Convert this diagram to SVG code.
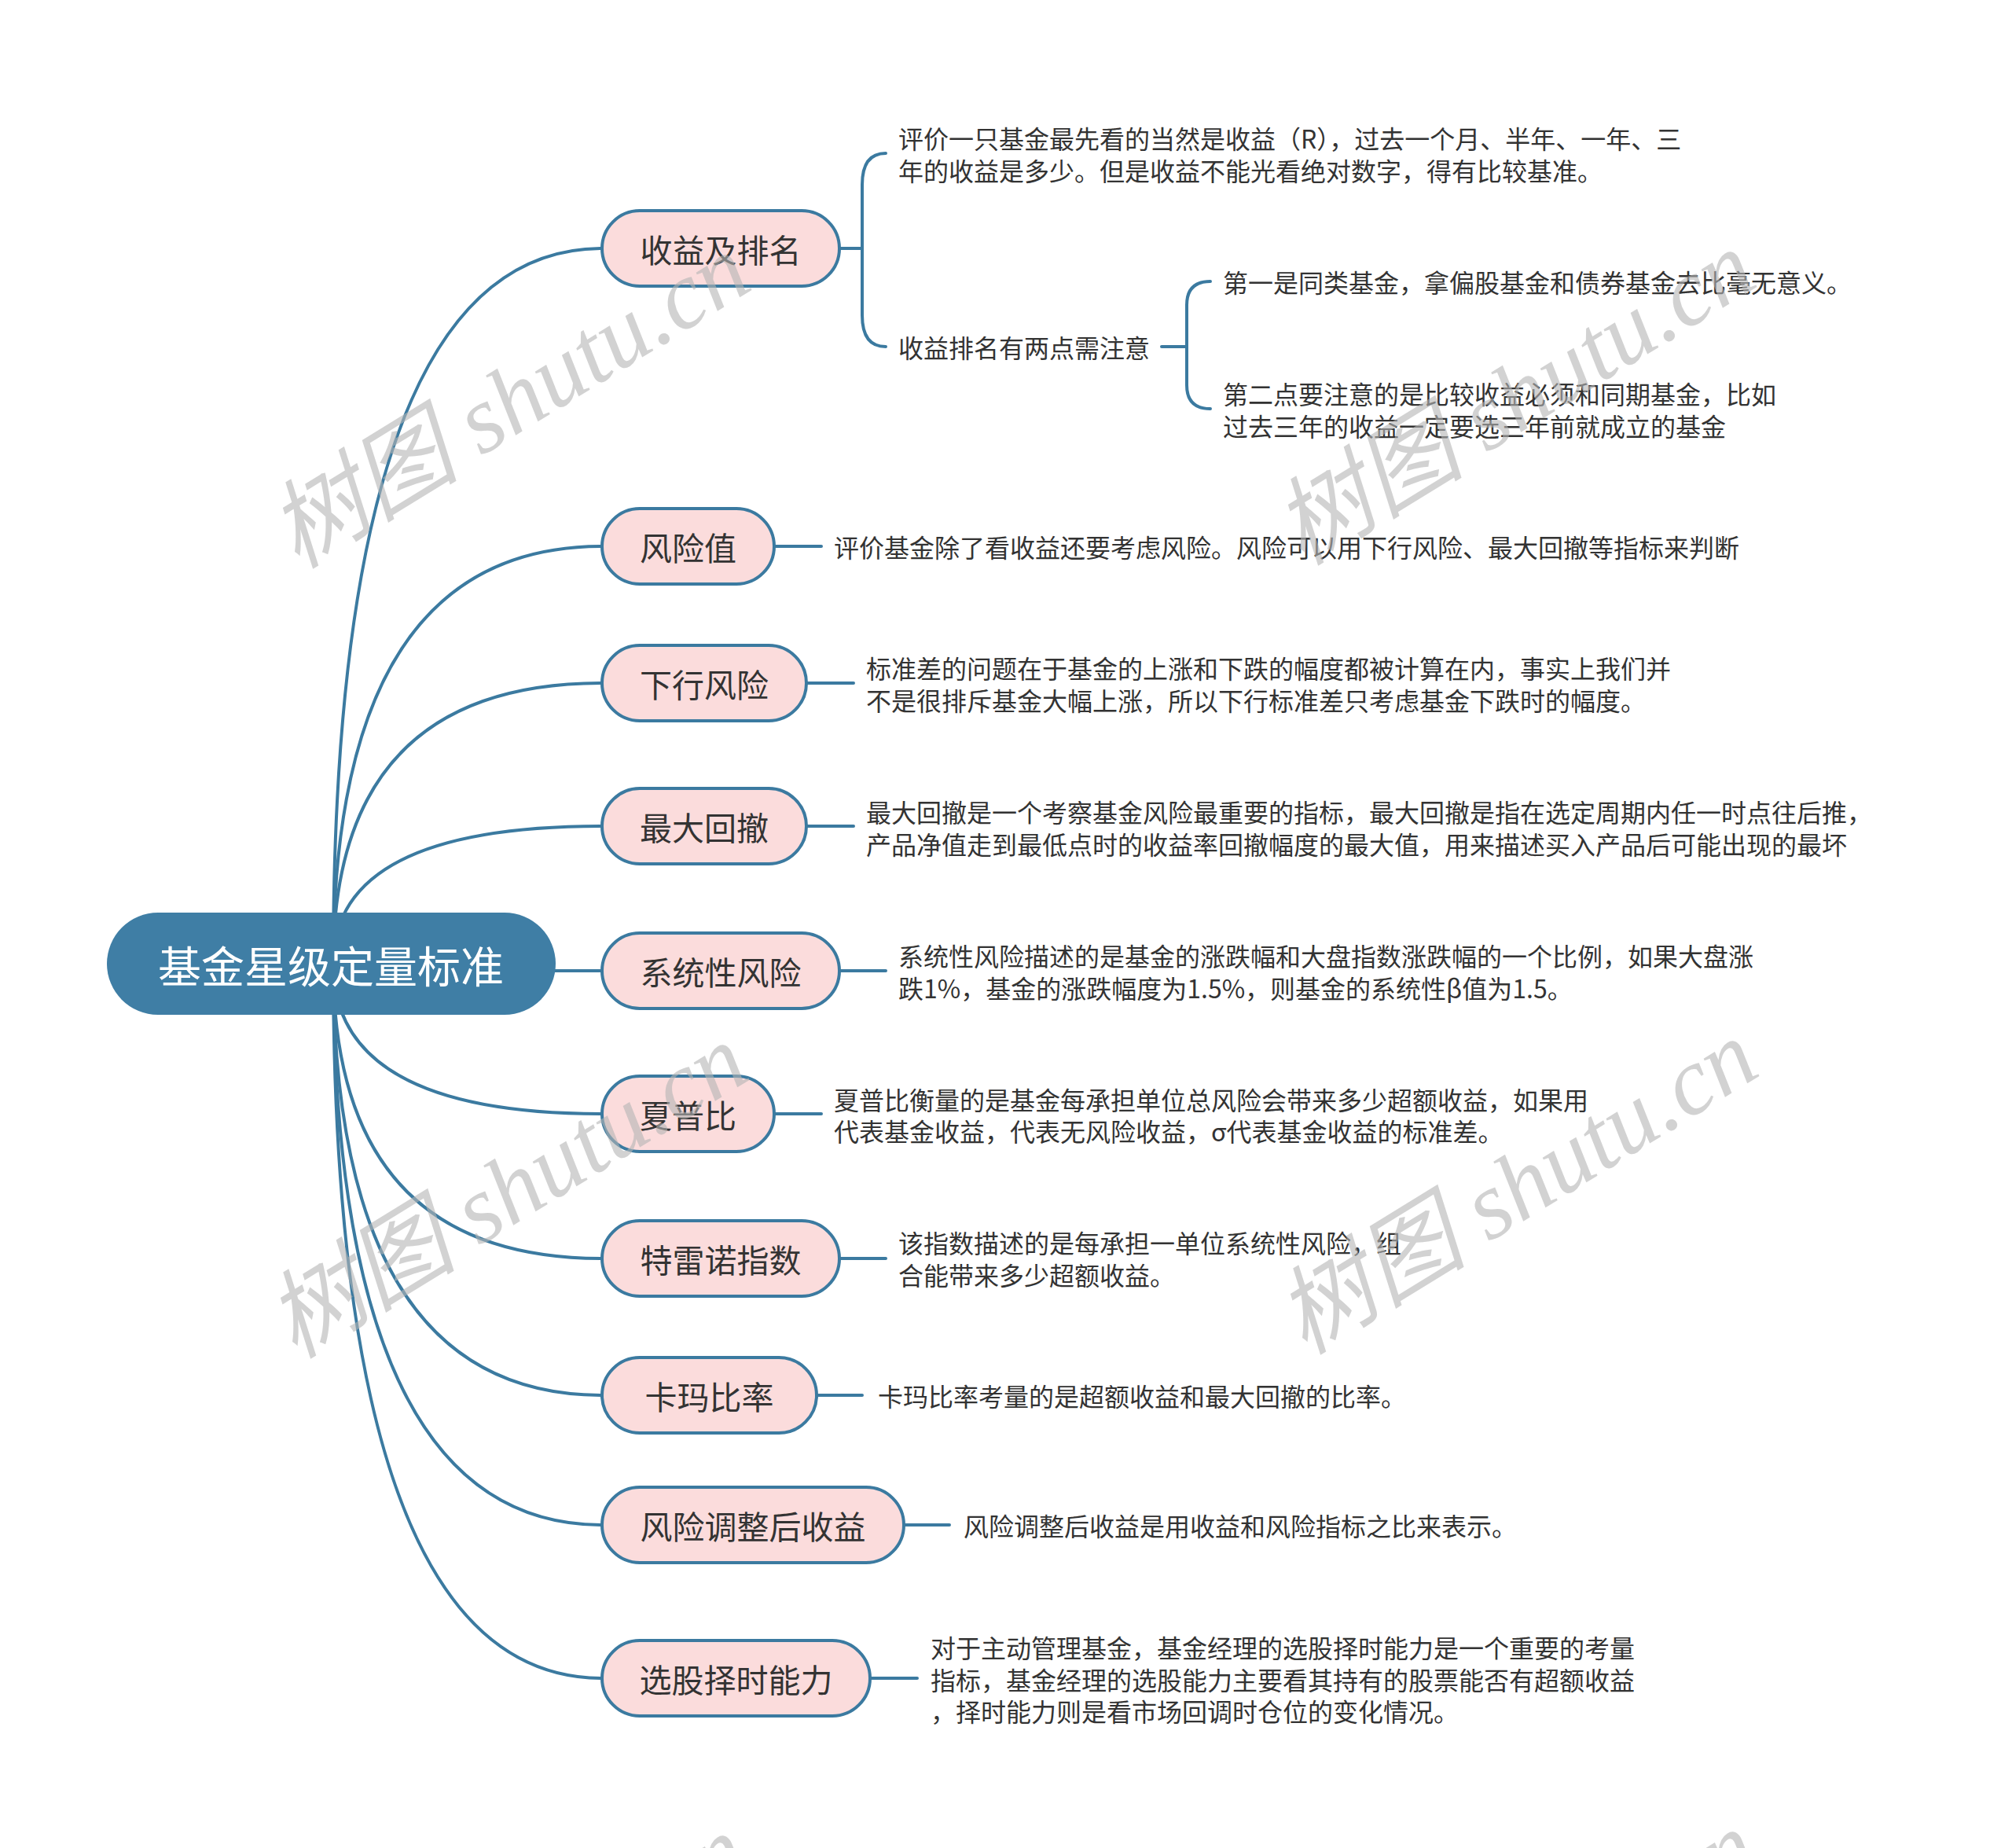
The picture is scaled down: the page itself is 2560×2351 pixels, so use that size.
<svg xmlns="http://www.w3.org/2000/svg" width="2560" height="2351" viewBox="0 0 2560 2351">
<style>
.edge{fill:none;stroke:#3b7aa0;stroke-width:4;stroke-linecap:round}
.node rect{fill:#fbdcdc;stroke:#3b7aa0;stroke-width:4}
.node text{font-family:"Noto Sans CJK SC","Liberation Sans",sans-serif;font-size:41px;fill:#333;text-anchor:middle;dominant-baseline:central}
.leaf{font-family:"Noto Sans CJK SC","Liberation Sans",sans-serif;font-size:32px;fill:#333;dominant-baseline:central}
.wm{font-family:"Liberation Serif","Noto Sans CJK SC",serif;font-style:italic;font-size:122px;fill:#b4b4b4;fill-opacity:0.6;text-anchor:middle;dominant-baseline:central}
</style>
<rect width="2560" height="2351" fill="#fff"/>
<g id="connectors">
<path class="edge" d="M424 1226 Q424 316 766 316"/>
<path class="edge" d="M424 1226 Q424 695 766 695"/>
<path class="edge" d="M424 1226 Q424 869 766 869"/>
<path class="edge" d="M424 1226 Q424 1051 766 1051"/>
<path class="edge" d="M424 1226 Q424 1235 766 1235"/>
<path class="edge" d="M424 1226 Q424 1417 766 1417"/>
<path class="edge" d="M424 1226 Q424 1601 766 1601"/>
<path class="edge" d="M424 1226 Q424 1775 766 1775"/>
<path class="edge" d="M424 1226 Q424 1940 766 1940"/>
<path class="edge" d="M424 1226 Q424 2135 766 2135"/>
<path class="edge" d="M1068 316 L1097 316 M1127 195 Q1097 195 1097 235 L1097 401 Q1097 441 1127 441"/>
<path class="edge" d="M1478 441 L1510 441 M1540 358 Q1510 358 1510 388 L1510 490 Q1510 520 1540 520"/>
<path class="edge" d="M985 695 L1045 695"/>
<path class="edge" d="M1026 869 L1086 869"/>
<path class="edge" d="M1026 1051 L1086 1051"/>
<path class="edge" d="M1068 1235 L1127 1235"/>
<path class="edge" d="M985 1417 L1045 1417"/>
<path class="edge" d="M1068 1601 L1127 1601"/>
<path class="edge" d="M1039 1775 L1097 1775"/>
<path class="edge" d="M1150 1940 L1208 1940"/>
<path class="edge" d="M1107 2135 L1167 2135"/>
</g>
<g id="root">
<rect x="136" y="1161" width="571" height="130" rx="65" fill="#3f7ea5"/>
<text x="421" y="1226" font-family="Noto Sans CJK SC, Liberation Sans, sans-serif" font-size="55" fill="#fff" text-anchor="middle" dominant-baseline="central">基金星级定量标准</text>
</g>
<g id="n1" class="node"><rect x="766" y="268" width="302" height="96" rx="48"/><text x="917" y="316">收益及排名</text></g>
<g id="n2" class="node"><rect x="766" y="647" width="219" height="96" rx="48"/><text x="875.5" y="695">风险值</text></g>
<g id="n3" class="node"><rect x="766" y="821" width="260" height="96" rx="48"/><text x="896" y="869">下行风险</text></g>
<g id="n4" class="node"><rect x="766" y="1003" width="260" height="96" rx="48"/><text x="896" y="1051">最大回撤</text></g>
<g id="n5" class="node"><rect x="766" y="1187" width="302" height="96" rx="48"/><text x="917" y="1235">系统性风险</text></g>
<g id="n6" class="node"><rect x="766" y="1369" width="219" height="96" rx="48"/><text x="875.5" y="1417">夏普比</text></g>
<g id="n7" class="node"><rect x="766" y="1553" width="302" height="96" rx="48"/><text x="917" y="1601">特雷诺指数</text></g>
<g id="n8" class="node"><rect x="766" y="1727" width="273" height="96" rx="48"/><text x="902.5" y="1775">卡玛比率</text></g>
<g id="n9" class="node"><rect x="766" y="1892" width="384" height="96" rx="48"/><text x="958" y="1940">风险调整后收益</text></g>
<g id="n10" class="node"><rect x="766" y="2087" width="341" height="96" rx="48"/><text x="936.5" y="2135">选股择时能力</text></g>
<g id="leaves">
<g id="l1"><text class="leaf" x="1143" y="175">评价一只基金最先看的当然是收益（R），过去一个月、半年、一年、三</text><text class="leaf" x="1143" y="216">年的收益是多少。但是收益不能光看绝对数字，得有比较基准。</text></g>
<g id="l2"><text class="leaf" x="1143" y="441">收益排名有两点需注意</text></g>
<g id="l2a"><text class="leaf" x="1556" y="358">第一是同类基金，拿偏股基金和债券基金去比毫无意义。</text></g>
<g id="l2b"><text class="leaf" x="1556" y="500">第二点要注意的是比较收益必须和同期基金，比如</text><text class="leaf" x="1556" y="541">过去三年的收益一定要选三年前就成立的基金</text></g>
<g id="l3"><text class="leaf" x="1061" y="695">评价基金除了看收益还要考虑风险。风险可以用下行风险、最大回撤等指标来判断</text></g>
<g id="l4"><text class="leaf" x="1102" y="849">标准差的问题在于基金的上涨和下跌的幅度都被计算在内，事实上我们并</text><text class="leaf" x="1102" y="890">不是很排斥基金大幅上涨，所以下行标准差只考虑基金下跌时的幅度。</text></g>
<g id="l5"><text class="leaf" x="1102" y="1032">最大回撤是一个考察基金风险最重要的指标，最大回撤是指在选定周期内任一时点往后推，</text><text class="leaf" x="1102" y="1073">产品净值走到最低点时的收益率回撤幅度的最大值，用来描述买入产品后可能出现的最坏</text></g>
<g id="l6"><text class="leaf" x="1143" y="1215">系统性风险描述的是基金的涨跌幅和大盘指数涨跌幅的一个比例，如果大盘涨</text><text class="leaf" x="1143" y="1256">跌1%，基金的涨跌幅度为1.5%，则基金的系统性β值为1.5。</text></g>
<g id="l7"><text class="leaf" x="1061" y="1398">夏普比衡量的是基金每承担单位总风险会带来多少超额收益，如果用</text><text class="leaf" x="1061" y="1438">代表基金收益，代表无风险收益，σ代表基金收益的标准差。</text></g>
<g id="l8"><text class="leaf" x="1143" y="1580">该指数描述的是每承担一单位系统性风险，组</text><text class="leaf" x="1143" y="1621">合能带来多少超额收益。</text></g>
<g id="l9"><text class="leaf" x="1117" y="1775">卡玛比率考量的是超额收益和最大回撤的比率。</text></g>
<g id="l10"><text class="leaf" x="1226" y="1940">风险调整后收益是用收益和风险指标之比来表示。</text></g>
<g id="l11"><text class="leaf" x="1184" y="2095">对于主动管理基金，基金经理的选股择时能力是一个重要的考量</text><text class="leaf" x="1184" y="2136">指标，基金经理的选股能力主要看其持有的股票能否有超额收益</text><text class="leaf" x="1184" y="2176">，择时能力则是看市场回调时仓位的变化情况。</text></g>
</g>
<g id="watermarks">
<text class="wm" transform="translate(648 510) rotate(-31.6)">树图 shutu.cn</text>
<text class="wm" transform="translate(1927 506) rotate(-31.6)">树图 shutu.cn</text>
<text class="wm" transform="translate(645 1515) rotate(-31.6)">树图 shutu.cn</text>
<text class="wm" transform="translate(1930 1510) rotate(-31.6)">树图 shutu.cn</text>
<text class="wm" transform="translate(645 2521) rotate(-31.6)">树图 shutu.cn</text>
<text class="wm" transform="translate(1930 2516) rotate(-31.6)">树图 shutu.cn</text>
</g>
</svg>
